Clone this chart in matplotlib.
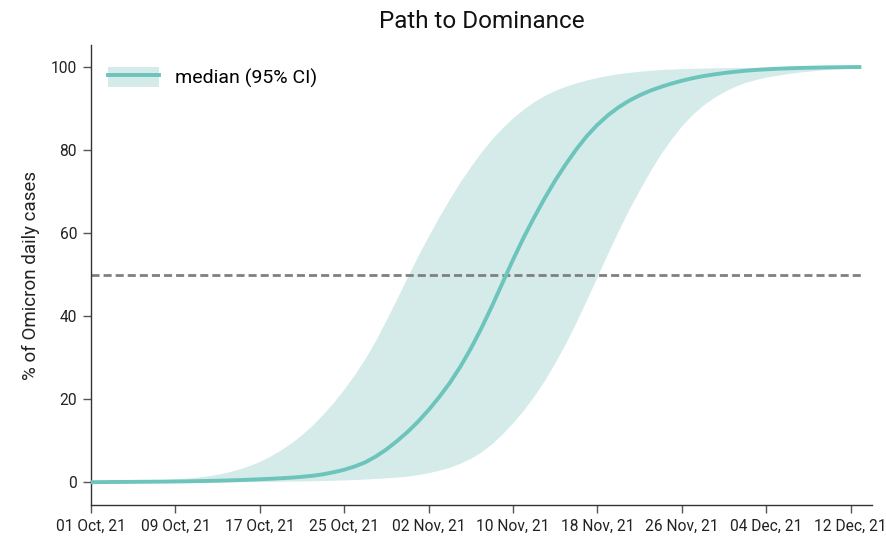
import matplotlib
matplotlib.use("Agg")
import matplotlib.pyplot as plt
import pandas as pd
from matplotlib.patches import Patch
from matplotlib.lines import Line2D

plt.rcParams['font.family'] = ['Roboto', 'DejaVu Sans']

# one value per day, starting 01 Oct 2021
median = [0.0, 0.02, 0.05, 0.06, 0.08, 0.1, 0.12, 0.14, 0.17, 0.2,
          0.25, 0.3, 0.35, 0.42, 0.5, 0.6, 0.7, 0.82, 0.95, 1.1,
          1.3, 1.55, 1.9, 2.4, 3.0, 3.8, 4.8, 6.2, 7.9, 9.9,
          12.1, 14.6, 17.4, 20.5, 23.9, 27.8, 32.2, 37.1, 42.4, 48.0,
          53.6, 58.9, 63.8, 68.4, 72.7, 76.6, 80.2, 83.4, 86.1, 88.4,
          90.3, 91.9, 93.2, 94.3, 95.2, 96.0, 96.7, 97.3, 97.8, 98.2,
          98.55, 98.85, 99.1, 99.3, 99.45, 99.58, 99.68, 99.76, 99.83, 99.88,
          99.92, 99.95, 99.98, 100.0]
upper = [0.2, 0.23, 0.27, 0.32, 0.38, 0.46, 0.55, 0.66, 0.8, 0.97,
         1.2, 1.5, 1.9, 2.45, 3.15, 4.0, 5.0, 6.3, 7.8, 9.5,
         11.5, 13.8, 16.4, 19.3, 22.5, 26.0, 29.9, 34.3, 39.2, 44.3,
         49.5, 54.6, 59.4, 64.0, 68.3, 72.4, 76.1, 79.6, 82.7, 85.4,
         87.8, 89.9, 91.7, 93.2, 94.4, 95.4, 96.2, 96.9, 97.5, 98.0,
         98.4, 98.7, 99.0, 99.2, 99.4, 99.5, 99.6, 99.7, 99.75, 99.8,
         99.85, 99.88, 99.9, 99.92, 99.93, 99.95, 99.96, 99.97, 99.97, 99.98,
         99.98, 99.99, 100.0, 100.0]
lower = [0.0, 0.0, 0.0, 0.01, 0.02, 0.025, 0.03, 0.04, 0.05, 0.06,
         0.07, 0.085, 0.1, 0.115, 0.13, 0.15, 0.17, 0.19, 0.22, 0.26,
         0.3, 0.35, 0.4, 0.47, 0.55, 0.65, 0.75, 0.9, 1.05, 1.25,
         1.45, 1.85, 2.3, 2.9, 3.6, 4.6, 5.8, 7.3, 9.3, 11.7,
         14.4, 17.4, 20.8, 24.6, 28.9, 33.6, 38.7, 44.1, 49.7, 55.3,
         60.7, 65.8, 70.5, 75.0, 79.1, 82.7, 85.9, 88.6, 90.8, 92.6,
         94.1, 95.3, 96.3, 97.0, 97.6, 98.0, 98.4, 98.75, 99.0, 99.25,
         99.45, 99.6, 99.72, 99.8]
threshold = 50
start_date = "2021-10-01"
tick_every_days = 8
n_ticks = 10
y_ticks = [0, 20, 40, 60, 80, 100]
title = "Path to Dominance"
ylabel = "% of Omicron daily cases"
legend_label = "median (95% CI)"

dates = pd.date_range(start_date, periods=len(median), freq="D")

line_color = "#6cc4bb"
fill_color = "#d4ebea"

fig = plt.figure(figsize=(8.86, 5.41), dpi=100)
ax = fig.add_axes([0.1027, 0.0665, 0.8813, 0.8503])

ax.fill_between(dates, lower, upper, color=fill_color, linewidth=0, zorder=1)
ax.plot(dates, median, color=line_color, lw=2.8, zorder=3,
        solid_capstyle='butt', solid_joinstyle='round')
ax.plot([dates[0], dates[-1]], [threshold, threshold], color="#808080", lw=2.0,
        linestyle=(0, (2.9, 1.45)), zorder=2)

ax.set_xlim(dates[0], pd.Timestamp(start_date) + pd.Timedelta(days=74))
ax.set_ylim(-5.5, 105.3)
ticks = pd.date_range(start_date, periods=n_ticks, freq=f"{tick_every_days}D")
ax.set_xticks(ticks)
ax.set_xticklabels([t.strftime("%d %b, %y") for t in ticks])
ax.set_yticks(y_ticks)

for s in ["top", "right"]:
    ax.spines[s].set_visible(False)
for s in ["left", "bottom"]:
    ax.spines[s].set_color("#333333")
    ax.spines[s].set_linewidth(1.0)
ax.tick_params(axis="both", direction="out", length=6, width=1.0, color="#555555",
               labelsize=11.2, labelcolor="#222222", pad=4)

ax.set_title(title, fontsize=17.5, color="#111111", pad=12)
ax.set_ylabel(ylabel, fontsize=13.5, color="#222222", labelpad=8)

handle = (Patch(facecolor=fill_color, edgecolor="none"),
          Line2D([], [], color=line_color, lw=2.8))
ax.legend([handle], [legend_label], loc="upper left", frameon=False, fontsize=14,
          handlelength=2.6, handleheight=1.2, bbox_to_anchor=(0.0, 0.99),
          borderaxespad=0.5)

fig.savefig("out.png", dpi=100)
